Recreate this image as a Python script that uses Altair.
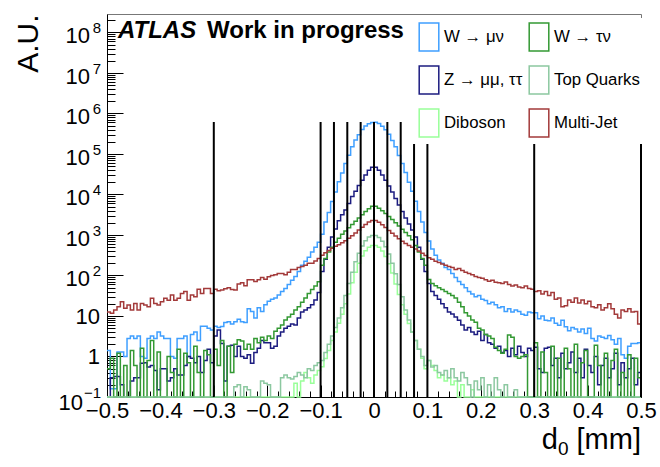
import altair as alt
import numpy as np
import pandas as pd

# ---- binning of the d0 histograms -------------------------------------------
X_MIN, X_MAX, N_BINS = -0.5, 0.5, 160
Y_MIN, Y_MAX = 0.1, 2.86e8
PLOT_W, PLOT_H = 534, 383

# ---- bin contents (arbitrary units), one list per sample --------------------
W_MUNU = (
    [1.4, 0.16, 0.16, 1.3, 1.3, 1.0, 2.8, 3.2, 2.8, 3.2, 1.0, 0.9, 2.8, 3.2, 2.8, 4.0,
     3.2, 2.8, 2.8, 1.0, 0.9, 2.8, 2.8, 3.2, 1.0, 3.5, 4.0, 2.5, 5.6, 5.6, 5.0, 4.5]
    + [5.6, 5.2, 5.5, 6.9, 7.2, 6.3, 7.2, 8.3, 7.2, 6.9, 15, 13, 8.9, 16, 13, 19,
       23, 26, 28, 33, 40, 48, 60, 76, 95, 126, 178, 224, 282, 380, 500, 660]
    + [1050, 2100, 3600, 6700, 11500, 20500, 34000, 58000, 93000, 150000, 220000,
       300000, 400000, 490000, 560000, 600000]
    + [610000, 565000, 485000, 395000, 305000, 215000, 150000, 92000, 58000, 35000,
       20000, 12000, 6800, 3800, 2100, 1150]
    + [710, 450, 316, 240, 200, 158, 141, 112, 89, 71, 60, 50, 40, 35, 30, 32,
       26, 24, 20, 22, 19, 16, 17, 13, 15, 12.6, 14, 13, 11, 10.5, 12.6, 12]
    + [12, 8.5, 10, 7.9, 7.6, 8.9, 6.6, 5.9, 7.9, 5.4, 4.3, 5.2, 4.8, 4.0, 4.8, 3.7,
       5.0, 2.8, 2.4, 3.2, 3.0, 2.8, 3.3, 2.6, 2.0, 2.8, 1.1, 0.9, 1.8, 2.1, 2.1, 2.2]
)

W_TAUNU = (
    [0.5, 0.9, 0, 1.2, 0, 0.6, 0, 1.4, 0.6, 0, 1.6, 0, 0.8, 2.5, 0, 1.3,
     0, 0, 1.0, 0.4, 0, 1.5, 0, 1.2, 0.7, 0, 1.8, 0.4, 0, 1.4, 1.1, 0]
    + [1.5, 0.6, 2.5, 0, 1.8, 0.4, 2.0, 2.6, 2.4, 1.5, 2.0, 1.5, 2.8, 2.2, 3.0, 2.5,
       3.2, 2.8, 4.2, 5.0, 6.0, 8.0, 9.5, 11, 14, 17, 22, 28, 36, 45, 55, 70]
    + [178, 263, 380, 501, 661, 832, 1050, 1260, 1510, 1820, 2190, 2630, 3160, 3800,
       4470, 5130]
    + [5130, 4570, 3980, 3390, 2880, 2400, 2000, 1660, 1380, 1150, 955, 759, 550, 380,
       263, 178]
    + [80, 63, 56, 50, 45, 40, 36, 32, 28, 22, 17, 12, 10, 8, 7, 5,
       4.5, 3.5, 3.2, 2.8, 1.7, 1.4, 1.2, 1.5, 3.4, 3.0, 1.0, 0.9, 1.0, 1.1, 0, 0]
    + [2.2, 0, 1.3, 0.4, 0, 1.8, 0, 0.9, 0, 1.6, 0.5, 0, 2.0, 0, 0.7, 1.4,
       0, 0, 1.9, 0.6, 0, 1.2, 0, 0.8, 1.5, 0, 0.4, 0, 1.1, 0, 0.9, 0.3]
)

Z_MUMU_TAUTAU = (
    [0, 0.3, 0.32, 0.32, 0.2, 0, 0, 0.25, 0.3, 0.3, 0.68, 0.7, 0.55, 0.6, 0.45, 0.15,
     0.5, 0.5, 0.25, 0.3, 0.5, 0.35, 0.35, 0.6, 1.0, 0.9, 0.7, 1.0, 0.4, 0.8, 1.5, 0.7]
    + [3.2, 4.5, 2.1, 0.25, 1.8, 1.9, 1.0, 1.8, 1.0, 0.9, 1.1, 0.68, 1.26, 1.6, 2.5, 2.2,
       2.2, 1.6, 1.8, 3.2, 4.0, 5.0, 5.6, 6.3, 6.0, 8.9, 12.6, 14, 16, 19, 25, 38]
    + [126, 251, 501, 891, 1410, 2240, 3160, 4170, 6030, 8910, 12000, 16600, 22400,
       30200, 39800, 46800]
    + [46800, 39800, 30200, 22400, 16200, 11500, 7940, 5500, 3800, 2630, 1860, 1320,
       891, 501, 251, 126]
    + [63, 40, 32, 26, 20, 16, 12.6, 11.2, 9.5, 7.9, 6.0, 4.5, 5.2, 4.0, 3.5, 4.2,
       2.5, 3.5, 2.2, 2.0, 1.6, 1.8, 1.26, 1.4, 1.0, 1.6, 1.1, 1.8, 1.26, 1.0, 1.6, 1.4]
    + [1.7, 0.5, 0.4, 1.6, 1.7, 0.6, 0.9, 0.3, 1.2, 0.5, 0.7, 1.3, 0.4, 0.9, 0.3, 1.5,
       0.6, 0.4, 1.0, 0.2, 0.6, 0.9, 0.3, 0.5, 1.2, 0.2, 0.7, 0.3, 0.5, 0.9, 0.2, 0.4]
)

TOP_QUARKS = (
    [0] * 32
    + [0, 0, 0, 0, 0, 0, 0.18, 0.2, 0, 0.18, 0.15, 0, 0, 0, 0.25, 0.22,
       0.2, 0, 0, 0, 0.3, 0.35, 0.3, 0.28, 0.32, 0.4, 0.35, 0.3, 0.5, 0.45, 0.6, 0.7]
    + [0.8, 1.26, 2.0, 3.2, 5.2, 8.9, 16, 32, 63, 120, 219, 355, 537, 724, 891, 977]
    + [977, 870, 700, 510, 340, 200, 110, 60, 30, 14, 8, 4, 2.5, 1.5, 1.0, 0.6]
    + [0.8, 0.55, 0.6, 0.4, 0.35, 0.45, 0.3, 0.5, 0.3, 0.25, 0.4, 0.3, 0.2, 0, 0.25, 0.15,
       0.3, 0, 0.2, 0, 0.3, 0.15, 0, 0.2, 0, 0, 0.15, 0, 0, 0, 0, 0]
    + [0] * 32
)

DIBOSON = (
    [0] * 55
    + [0, 0.22, 0, 0.25, 0.4, 0.3, 0.22, 0.35, 0.45]
    + [0.56, 0.89, 1.4, 2.5, 4.0, 6.6, 11, 20, 35, 66, 120, 200, 302, 407, 500, 550]
    + [550, 495, 400, 295, 195, 115, 62, 34, 19, 11, 6.5, 4.0, 2.5, 1.5, 0.9, 0.5]
    + [0.8, 0.6, 0.45, 0.3, 0.35, 0.25, 0.3, 0.2, 0.25, 0, 0.2, 0, 0, 0.15, 0, 0]
    + [0] * 48
)

MULTI_JET = (
    [12.6, 11.7, 14.1, 17, 22.4, 15.5, 18.6, 14.1, 20.4, 14.1, 20.4, 18.6, 17, 27.5, 20.4,
     18.6, 22.4, 27.5, 24.5, 33, 24.5, 27.5, 36, 40, 24.5, 33, 30, 46, 36, 48, 48, 36]
    + [46, 42, 44, 47, 50, 45, 44, 62, 66, 56, 79, 78, 71, 79, 89, 81,
       93, 100, 105, 112, 112, 105, 120, 141, 141, 158, 166, 178, 200, 200, 229, 263]
    + [316, 363, 417, 468, 525, 575, 646, 724, 832, 955, 1120, 1320, 1550, 1820, 2090, 2290]
    + [2270, 2050, 1800, 1530, 1300, 1100, 950, 810, 700, 620, 550, 500, 450, 400, 355, 310]
    + [275, 251, 224, 209, 191, 178, 166, 158, 141, 148, 132, 120, 112, 105, 95, 89,
       85, 79, 72, 76, 68, 66, 63, 69, 60, 55, 58, 52, 50, 55, 48, 46]
    + [40, 42, 35, 40, 32, 38, 26, 28, 17, 18, 25, 22, 28, 21, 25, 20,
       23, 17, 16, 19, 14, 16, 20, 15, 11, 8.9, 14, 13, 15, 12.6, 13, 6.3]
)

# legend entries fill column by column: (W->mu nu, Z, Diboson) then (W->tau nu, Top, Multi-Jet)
SAMPLES = ["W → μν", "Z → μμ, ττ", "Diboson", "W → τν", "Top Quarks", "Multi-Jet"]
COLORS = ["#3f9fff", "#1c1c80", "#99ff99", "#339933", "#8cc8a0", "#a33a3a"]
CONTENTS = [W_MUNU, Z_MUMU_TAUTAU, DIBOSON, W_TAUNU, TOP_QUARKS, MULTI_JET]

# d0 cut boundaries drawn as vertical lines
CUT_X = [-0.3, -0.1, -0.075, -0.05, -0.025, 0, 0.025, 0.05, 0.075, 0.1, 0.3, 0.5]
CUT_TOP = 6.2e5

X_TICKS = [-0.5, -0.4, -0.3, -0.2, -0.1, 0, 0.1, 0.2, 0.3, 0.4, 0.5]
X_MINOR = [round(-0.5 + 0.02 * i, 2) for i in range(51)]
DECADES = [0.1, 1, 10, 1e2, 1e3, 1e4, 1e5, 1e6, 1e7, 1e8]
Y_MINOR = [m * 10.0 ** e for e in range(-1, 9) for m in range(2, 10) if m * 10.0 ** e <= Y_MAX]
DECADE_BASE = ["10", "1", "10", "10", "10", "10", "10", "10", "10", "10"]
DECADE_EXP = ["−1", "", "", "2", "3", "4", "5", "6", "7", "8"]

FONT = "Liberation Sans"

# ---- long-format table: one step point per bin low edge, plus the closing edge --
edges = np.linspace(X_MIN, X_MAX, N_BINS + 1)
rows = []
for name, vals in zip(SAMPLES, CONTENTS):
    assert len(vals) == N_BINS, (name, len(vals))
    for x, v in zip(list(edges[:-1]) + [X_MAX], list(vals) + [vals[-1]]):
        rows.append({"d0": float(x), "count": float(v), "sample": name})
hist = pd.DataFrame(rows)
cuts = pd.DataFrame({"d0": CUT_X, "top": [CUT_TOP] * len(CUT_X), "bottom": [Y_MIN] * len(CUT_X)})
decade_labels = pd.DataFrame({"value": DECADES, "base": DECADE_BASE, "exp": DECADE_EXP})

x_scale = alt.Scale(domain=[X_MIN, X_MAX], nice=False, zero=False)
y_scale = alt.Scale(type="log", domain=[Y_MIN, Y_MAX], nice=False)

# histograms, with the bottom labels, the y title and the legend
hist_layer = (
    alt.Chart(hist)
    .transform_calculate(shown="max(datum.count, %g)" % Y_MIN)
    .mark_line(interpolate="step-after", strokeWidth=1.5)
    .encode(
        x=alt.X("d0:Q", scale=x_scale,
                axis=alt.Axis(orient="bottom", values=X_TICKS, format=".1~f", ticks=False,
                              domain=True, domainColor="black", domainWidth=1,
                              labelFontSize=22, labelPadding=3, labelFlush=False,
                              title=None)),
        y=alt.Y("shown:Q", scale=y_scale,
                axis=alt.Axis(orient="left", values=DECADES, labels=False, ticks=False,
                              domain=True, domainColor="black", domainWidth=1,
                              title="A.U.", titleFontSize=30, titleFontWeight="normal",
                              titleAngle=270, titleAlign="right", titleBaseline="alphabetic",
                              titleX=-70, titleY=0)),
        color=alt.Color("sample:N",
                        scale=alt.Scale(domain=SAMPLES, range=COLORS),
                        legend=alt.Legend(
                            title=None, orient="none", legendX=303, legendY=4, columns=2,
                            symbolType="M-0.7,-1H0.7V1H-0.7Z", symbolSize=784,
                            symbolStrokeWidth=1.5, symbolFillColor="white",
                            labelFont=FONT, labelFontSize=16.8, labelColor="black",
                            labelOffset=0, labelLimit=300,
                            rowPadding=9, columnPadding=1, padding=4,
                            fillColor="white")),
    )
)

# vertical cut lines, carrying the major inner ticks
cut_layer = (
    alt.Chart(cuts)
    .mark_rule(color="black", strokeWidth=2)
    .encode(
        x=alt.X("d0:Q", scale=x_scale,
                axis=alt.Axis(orient="top", offset=-PLOT_H, values=X_TICKS, tickSize=12,
                              labels=False, domain=False, title=None)),
        y=alt.Y("top:Q", scale=y_scale,
                axis=alt.Axis(orient="right", offset=-PLOT_W, values=DECADES, tickSize=16,
                              labels=False, domain=False, title=None)),
        y2="bottom:Q",
    )
)

# invisible marks that carry the minor inner ticks
minor_layer = (
    alt.Chart(cuts)
    .mark_point(opacity=0)
    .encode(
        x=alt.X("d0:Q", scale=x_scale,
                axis=alt.Axis(orient="top", offset=-PLOT_H, values=X_MINOR, tickSize=6,
                              labels=False, domain=False, title=None)),
        y=alt.Y("top:Q", scale=y_scale,
                axis=alt.Axis(orient="right", offset=-PLOT_W, values=Y_MINOR, tickSize=8,
                              labels=False, domain=False, title=None)),
    )
)

# decade labels of the log axis: "10" with a raised exponent, or plain "1" / "10"
label_y = alt.Y("value:Q", scale=y_scale, axis=None)


def decade_text(filter_expr, field, x_px, dy, size, align="right"):
    return (
        alt.Chart(decade_labels).transform_filter(filter_expr)
        .mark_text(align=align, baseline="alphabetic", font=FONT, fontSize=size, dy=dy,
                   color="black")
        .encode(x=alt.value(x_px), y=label_y, text=field + ":N")
    )


dec_base = decade_text("length(datum.exp) == 1", "base", -17, 11, 22)
dec_base_neg = decade_text("length(datum.exp) == 2", "base", -24, 13, 22)
dec_exp = decade_text("datum.exp != ''", "exp", -6, 1, 15)
dec_plain = decade_text("datum.exp == ''", "base", -7, 8, 22)

# x-axis title: d with subscript 0, then the unit
x_title_d = (
    alt.Chart(pd.DataFrame({"t": ["d"]}))
    .mark_text(align="right", baseline="alphabetic", font=FONT, fontSize=29, color="black")
    .encode(x=alt.value(451), y=alt.value(PLOT_H + 52), text="t:N")
)
x_title_sub = (
    alt.Chart(pd.DataFrame({"t": ["0"]}))
    .mark_text(align="left", baseline="alphabetic", font=FONT, fontSize=19, color="black")
    .encode(x=alt.value(451), y=alt.value(PLOT_H + 58), text="t:N")
)
x_title_unit = (
    alt.Chart(pd.DataFrame({"t": ["[mm]"]}))
    .mark_text(align="right", baseline="alphabetic", font=FONT, fontSize=29, color="black")
    .encode(x=alt.value(PLOT_W), y=alt.value(PLOT_H + 52), text="t:N")
)

atlas = (
    alt.Chart(pd.DataFrame({"t": ["ATLAS"]}))
    .mark_text(align="left", baseline="alphabetic", font=FONT, fontSize=24,
               fontWeight="bold", fontStyle="italic", color="black")
    .encode(x=alt.value(11), y=alt.value(24), text="t:N")
)
status = (
    alt.Chart(pd.DataFrame({"t": ["Work in progress"]}))
    .mark_text(align="left", baseline="alphabetic", font=FONT, fontSize=24,
               fontWeight="bold", color="black")
    .encode(x=alt.value(100), y=alt.value(24), text="t:N")
)

chart = (
    alt.layer(hist_layer, cut_layer, minor_layer, dec_base, dec_base_neg, dec_exp, dec_plain,
              x_title_d, x_title_sub, x_title_unit, atlas, status)
    .resolve_axis(x="independent", y="independent")
    .properties(
        width=PLOT_W, height=PLOT_H,
        autosize=alt.AutoSizeParams(type="none"),
        padding={"left": 107, "top": 14, "right": 19, "bottom": 70},
    )
    .configure_view(stroke="#777", strokeWidth=1)
    .configure_axis(labelFont=FONT, titleFont=FONT, labelColor="black", titleColor="black",
                    tickColor="black", tickWidth=1, grid=False)
)

chart.save("out.html", embed_options={"renderer": "svg", "actions": False})
